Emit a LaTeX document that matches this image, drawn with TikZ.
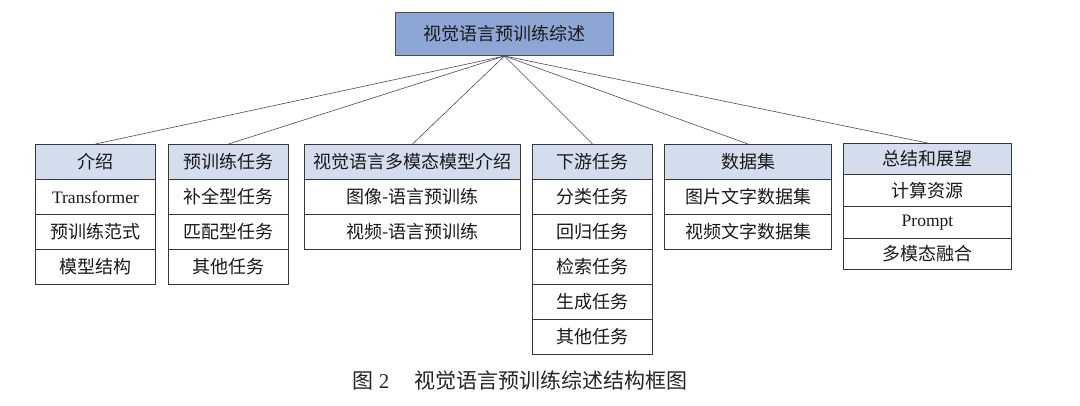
\documentclass[tikz,border=0pt]{standalone}
\usepackage{fontspec}
\setmainfont{Liberation Serif}
\newfontfamily\cjk{Noto Sans CJK SC}
\definecolor{rootfill}{RGB}{141,166,212}
\definecolor{headfill}{RGB}{212,221,237}
\definecolor{boxline}{RGB}{55,55,55}
\tikzset{
  cell/.style={draw=boxline, line width=1pt, inner sep=0pt, anchor=north west, fill=white,
    font=\cjk\fontsize{18}{18}\selectfont, text=black!90},
  head/.style={cell, fill=headfill},
  rootbox/.style={cell, fill=rootfill, draw=black!70, line width=1pt},
  edge/.style={draw=black!70, line width=0.6pt},
  latin/.style={font=\fontsize{17.5}{17.5}\selectfont}
}
\begin{document}
\begin{tikzpicture}[x=1pt,y=-1pt]
\useasboundingbox[fill=white] (0,0) rectangle (1080,405);
% root
\node[rootbox, minimum width=218pt, minimum height=43pt] (root) at (395,12) {视觉语言预训练综述};
% column 1
\node[head, minimum width=120pt, minimum height=35pt] (c1h) at (35,144) {介绍};
\node[cell, latin, minimum width=120pt, minimum height=35pt] (c1a) at (35,179) {Transformer};
\node[cell, minimum width=120pt, minimum height=35pt] (c1b) at (35,214) {预训练范式};
\node[cell, minimum width=120pt, minimum height=35pt] (c1c) at (35,249) {模型结构};
% column 2
\node[head, minimum width=120pt, minimum height=35pt] (c2h) at (168,144) {预训练任务};
\node[cell, minimum width=120pt, minimum height=35pt] (c2a) at (168,179) {补全型任务};
\node[cell, minimum width=120pt, minimum height=35pt] (c2b) at (168,214) {匹配型任务};
\node[cell, minimum width=120pt, minimum height=35pt] (c2c) at (168,249) {其他任务};
% column 3
\node[head, minimum width=216pt, minimum height=35pt] (c3h) at (304,144) {视觉语言多模态模型介绍};
\node[cell, minimum width=216pt, minimum height=35pt] (c3a) at (304,179) {图像-语言预训练};
\node[cell, minimum width=216pt, minimum height=35pt] (c3b) at (304,214) {视频-语言预训练};
% column 4
\node[head, minimum width=120pt, minimum height=35pt] (c4h) at (532,144) {下游任务};
\node[cell, minimum width=120pt, minimum height=35pt] (c4a) at (532,179) {分类任务};
\node[cell, minimum width=120pt, minimum height=35pt] (c4b) at (532,214) {回归任务};
\node[cell, minimum width=120pt, minimum height=35pt] (c4c) at (532,249) {检索任务};
\node[cell, minimum width=120pt, minimum height=35pt] (c4d) at (532,284) {生成任务};
\node[cell, minimum width=120pt, minimum height=35pt] (c4e) at (532,319) {其他任务};
% column 5
\node[head, minimum width=167pt, minimum height=35pt] (c5h) at (664,144) {数据集};
\node[cell, minimum width=167pt, minimum height=35pt] (c5a) at (664,179) {图片文字数据集};
\node[cell, minimum width=167pt, minimum height=35pt] (c5b) at (664,214) {视频文字数据集};
% column 6
\node[head, minimum width=168pt, minimum height=31pt] (c6h) at (843,143) {总结和展望};
\node[cell, minimum width=168pt, minimum height=32pt] (c6a) at (843,174) {计算资源};
\node[cell, latin, minimum width=168pt, minimum height=32pt] (c6b) at (843,206) {Prompt};
\node[cell, minimum width=168pt, minimum height=31pt] (c6c) at (843,238) {多模态融合};
% connectors
\foreach \c in {c1h,c2h,c3h,c4h,c5h,c6h}{
  \draw[edge] (root.south) -- (\c.north);
}
% caption
\node[font=\fontsize{21}{21}\selectfont, text=black!85, inner sep=0pt] (cap) at (520,381)
  {{\cjk 图} 2\hspace{25pt}{\cjk 视觉语言预训练综述结构框图}};
\end{tikzpicture}
\end{document}
